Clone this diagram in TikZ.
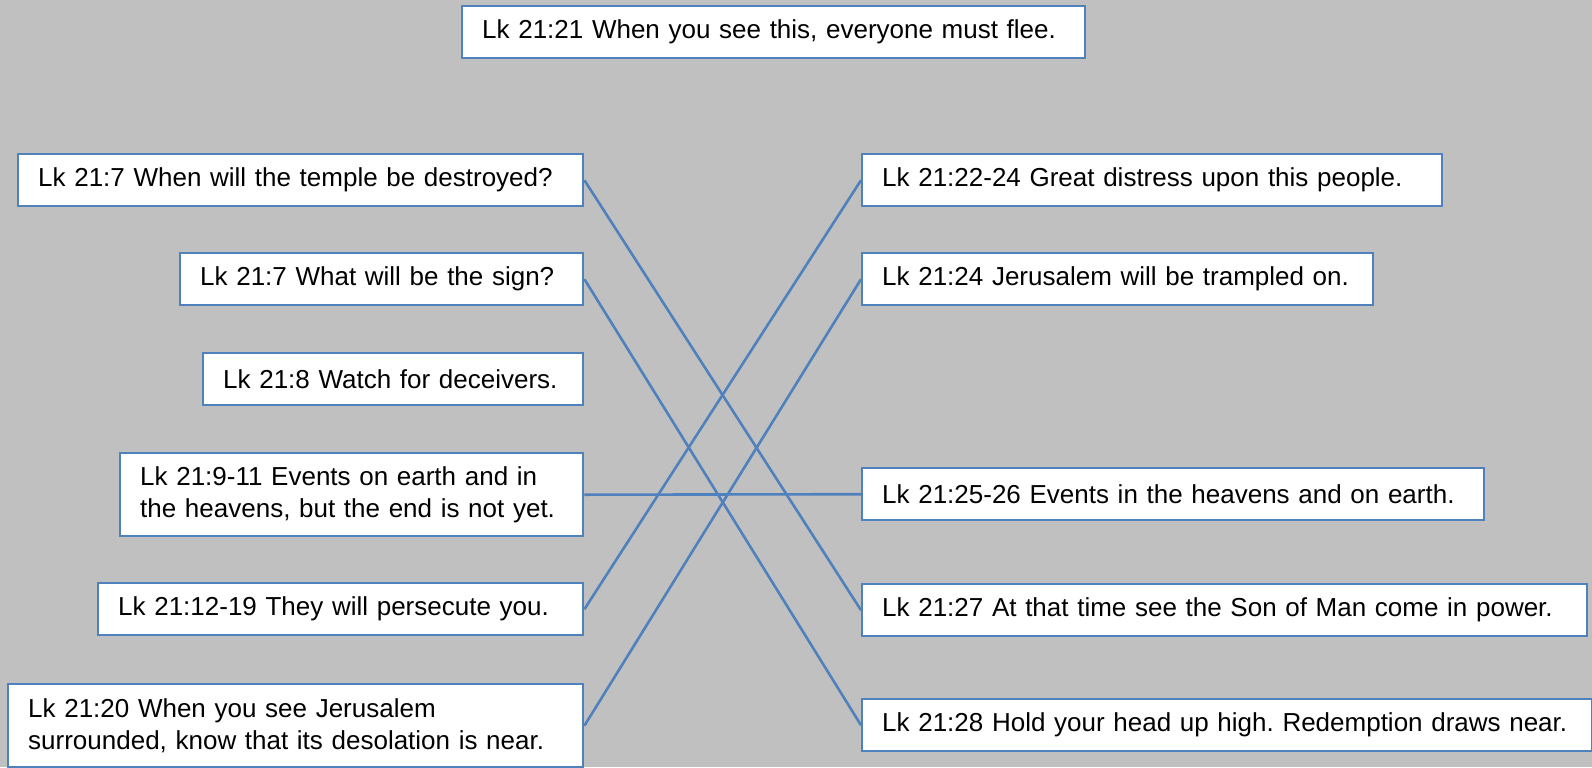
\documentclass[tikz,border=0pt]{standalone}
\usepackage{fontspec}
\setmainfont{Liberation Sans}
\frenchspacing
\definecolor{bggray}{RGB}{192,192,192}
\definecolor{boxblue}{RGB}{79,129,189}

\begin{document}
\begin{tikzpicture}[
    x=0.5pt, y=-0.5pt,
    verse/.style={draw=boxblue, fill=white, line width=1.2pt, anchor=north west,
        inner xsep=10pt, inner ysep=0pt, minimum height=26pt, align=left,
        font=\fontsize{13}{16}\selectfont},
    link/.style={draw=boxblue, line width=1.3pt}
]

\useasboundingbox (0,0) rectangle (1592,767);
\fill[bggray] (0,0) rectangle (1592,767);

\node[verse, text width=291.5pt] (flee) at (461,5) {Lk 21:21 When you see this, everyone must flee.};

\node[verse, text width=262.5pt] (L1) at (17,153) {Lk 21:7 When will the temple be destroyed?};
\node[verse, text width=181.5pt] (L2) at (179,252) {Lk 21:7 What will be the sign?};
\node[verse, text width=170pt] (L3) at (202,352) {Lk 21:8 Watch for deceivers.};
\node[verse, text width=211.5pt, minimum height=41.5pt] (L4) at (119,452) {Lk 21:9-11 Events on earth and in\\the heavens, but the end is not yet.};
\node[verse, text width=222.5pt] (L5) at (97,582) {Lk 21:12-19 They will persecute you.};
\node[verse, text width=267.5pt, minimum height=41.5pt] (L6) at (7,683) {Lk 21:20 When you see Jerusalem\\surrounded, know that its desolation is near.};

\node[verse, text width=270pt] (R1) at (861,153) {Lk 21:22-24 Great distress upon this people.};
\node[verse, text width=235.5pt] (R2) at (861,252) {Lk 21:24 Jerusalem will be trampled on.};
\node[verse, text width=291pt] (R3) at (861,467) {Lk 21:25-26 Events in the heavens and on earth.};
\node[verse, text width=342.5pt] (R4) at (861,583) {Lk 21:27 At that time see the Son of Man come in power.};
\node[verse, text width=345pt] (R5) at (861,698) {Lk 21:28 Hold your head up high. Redemption draws near.};

\draw[link] (L1.east) -- (R4.west);
\draw[link] (L2.east) -- (R5.west);
\draw[link] (L4.east) -- (R3.west);
\draw[link] (L5.east) -- (R1.west);
\draw[link] (L6.east) -- (R2.west);

\end{tikzpicture}
\end{document}
